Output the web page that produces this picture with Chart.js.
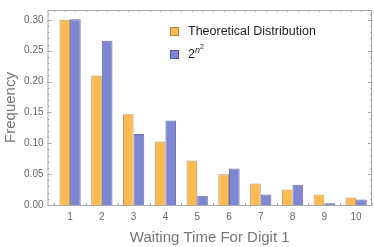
<!DOCTYPE html>
<html>
<head>
<meta charset="utf-8">
<script src="https://cdn.jsdelivr.net/npm/chart.js@4"></script>
<style>
  html, body { margin: 0; padding: 0; background: #fff; }
  #wrap { position: relative; width: 374px; height: 247px; }
  #chart { position: absolute; left: 0; top: 0; }
  .lg { position: absolute; font-family: "Liberation Sans", Arial, sans-serif; font-size: 12.5px; line-height: 14px; color: #222; white-space: nowrap; }
  .sw { position: absolute; width: 9px; height: 9px; box-sizing: border-box; }
</style>
</head>
<body>
<div id="wrap">
  <canvas id="chart" width="374" height="247"></canvas>
  <div class="sw" style="left:170px;top:27px;background:rgb(252,186,80);border:1px solid rgba(150,110,50,0.7)"></div>
  <div class="lg" style="left:188px;top:24px">Theoretical Distribution</div>
  <div class="sw" style="left:170px;top:50px;background:rgb(125,135,212);border:1px solid rgba(70,75,140,0.8)"></div>
  <div class="lg" style="left:188px;top:47px">2<sup style="font-size:9px;line-height:0"><i>n</i><sup style="font-size:7px;line-height:0">2</sup></sup></div>
</div>
<script>
const waitingTimes = [1, 2, 3, 4, 5, 6, 7, 8, 9, 10]
const theoretical = [0.300, 0.210, 0.147, 0.103, 0.072, 0.050, 0.035, 0.025, 0.017, 0.012]
const twoPowN2 = [0.301, 0.266, 0.115, 0.137, 0.015, 0.059, 0.017, 0.033, 0.003, 0.009]
const yTicks = [0, 0.05, 0.10, 0.15, 0.20, 0.25, 0.30]

const orange = 'rgb(252,186,80)'
const blue = 'rgb(125,135,212)'
const frameColor = '#a8a8a8'
const tickFont = { family: '"Liberation Sans", Arial, sans-serif', size: 10 }

// frame with inward ticks, drawn like the original plot frame
const framePlugin = {
  id: 'frame',
  afterDraw(chart) {
    const { ctx, chartArea: a, scales: { x, y } } = chart
    ctx.save()
    ctx.strokeStyle = frameColor
    ctx.lineWidth = 1
    ctx.strokeRect(a.left + 0.5, a.top + 0.5, a.right - a.left - 1, a.bottom - a.top)
    ctx.beginPath()
    // y ticks, major every 0.05, minor every 0.01
    for (let i = 0; i <= 31; i++) {
      const py = Math.round(y.getPixelForValue(i / 100)) + 0.5
      if (py < a.top) break
      const len = i % 5 === 0 ? 4 : 2
      ctx.moveTo(a.left, py); ctx.lineTo(a.left + len, py)
      ctx.moveTo(a.right, py); ctx.lineTo(a.right - len, py)
    }
    // bottom ticks between groups
    for (let v = 0.5; v <= 10.5; v += 1) {
      const px = Math.round(x.getPixelForValue(v)) + 0.5
      ctx.moveTo(px, a.bottom); ctx.lineTo(px, a.bottom - 2)
    }
    // top minor ticks
    for (let v = 0.5; v <= 10.5; v += 1 / 3) {
      const px = Math.round(x.getPixelForValue(v)) + 0.5
      ctx.moveTo(px, a.top); ctx.lineTo(px, a.top + 2)
    }
    ctx.stroke()
    ctx.restore()
  }
}

new Chart(document.getElementById('chart'), {
  type: 'bar',
  data: {
    datasets: [
      {
        label: 'Theoretical Distribution',
        data: waitingTimes.map((t, i) => ({ x: t, y: theoretical[i] })),
        backgroundColor: orange,
        borderColor: 'rgba(150,110,50,0.7)',
        borderWidth: 1
      },
      {
        label: '2^n^2',
        data: waitingTimes.map((t, i) => ({ x: t, y: twoPowN2[i] })),
        backgroundColor: blue,
        borderColor: 'rgba(70,75,140,0.8)',
        borderWidth: 1
      }
    ]
  },
  options: {
    responsive: false,
    animation: false,
    categoryPercentage: 0.67,
    barPercentage: 1.0,
    layout: { padding: { top: 4, right: 2, left: 0, bottom: 0 } },
    plugins: { legend: { display: false }, tooltip: { enabled: false } },
    scales: {
      x: {
        type: 'linear',
        offset: false,
        min: 0.29,
        max: 10.5,
        afterBuildTicks: s => { s.ticks = waitingTimes.map(v => ({ value: v })) },
        afterFit: s => { s.height = 42 },
        grid: { display: false, drawTicks: false },
        border: { display: false },
        ticks: { color: '#666', font: tickFont, padding: 6, maxRotation: 0, autoSkip: false },
        title: {
          display: true,
          text: 'Waiting Time For Digit 1',
          color: '#777',
          font: { family: '"Liberation Sans", Arial, sans-serif', size: 15 },
          padding: { top: 4, bottom: 0 }
        }
      },
      y: {
        min: 0,
        max: 0.316,
        afterBuildTicks: s => { s.ticks = yTicks.map(v => ({ value: v })) },
        afterFit: s => { s.width = 47.5 },
        grid: { display: false, drawTicks: false },
        border: { display: false },
        ticks: { color: '#666', font: tickFont, padding: 4, callback: v => v.toFixed(2) },
        title: {
          display: true,
          text: 'Frequency',
          color: '#777',
          font: { family: '"Liberation Sans", Arial, sans-serif', size: 15 },
          padding: { top: 2, bottom: 0 }
        }
      }
    }
  },
  plugins: [framePlugin]
})
</script>
</body>
</html>
